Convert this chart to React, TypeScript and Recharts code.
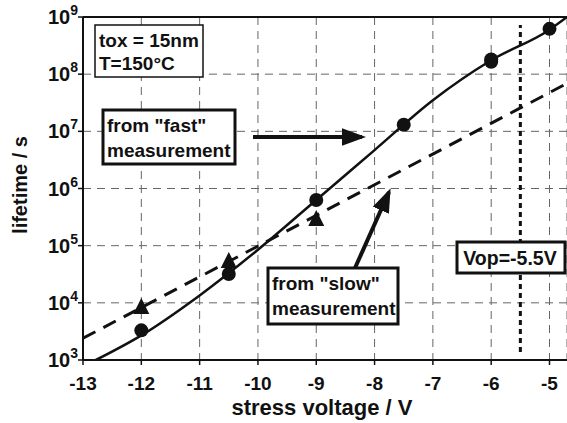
import { ComposedChart, Line, Scatter, XAxis, YAxis, CartesianGrid, ReferenceLine } from 'recharts';

// stress voltage (V) / lifetime (s)
const fastFitX = [-12.78, -12, -11, -10, -9, -8, -7, -6, -5, -4.7];
const fastFitY = [1e3, 2.7e3, 1.35e4, 8.5e4, 6.3e5, 4.7e6, 3.5e7, 1.75e8, 6.0e8, 1e9];
const slowFitX = [-13, -4.7];
const slowFitY = [2.4e3, 6.9e7];
const fastPointsX = [-12, -10.5, -9, -7.5, -6, -6, -5];
const fastPointsY = [3.3e3, 3.2e4, 6.3e5, 1.3e7, 1.65e8, 1.8e8, 6.2e8];
const slowPointsX = [-12, -10.5, -9];
const slowPointsY = [8.1e3, 5.2e4, 2.8e5];
const xTicks = [-13, -12, -11, -10, -9, -8, -7, -6, -5];
const yTicks = [1e3, 1e4, 1e5, 1e6, 1e7, 1e8, 1e9];
const vop = -5.5;

const zip = (xs: number[], ys: number[]) => xs.map((x, i) => ({ x, y: ys[i] }));

const FONT = '"Liberation Sans", Arial, sans-serif';

const XTick = ({ x, y, payload }: any) => (
  <text x={x} y={y + 23} textAnchor="middle" fontFamily={FONT} fontWeight="bold" fontSize={19} fill="#111">
    {payload.value}
  </text>
);

const YTick = ({ x, y, payload }: any) => {
  const exp = Math.round(Math.log10(payload.value));
  return (
    <text x={x} y={y + 7} textAnchor="end" fontFamily={FONT} fontWeight="bold" fontSize={20} fill="#111">
      <tspan>10</tspan>
      <tspan dy={-9} fontSize={14}>{exp}</tspan>
    </text>
  );
};

const Dot = ({ cx, cy }: any) => <circle cx={cx} cy={cy} r={7} fill="#111" />;

const Tri = ({ cx, cy }: any) => (
  <polygon points={`${cx},${cy - 10} ${cx - 8},${cy + 6} ${cx + 8},${cy + 6}`} fill="#111" />
);

const VopLine = (props: any) => {
  const { x1, y1, x2, y2 } = props;
  return <line x1={x1} y1={y1 - 8} x2={x2} y2={y2 + 8} stroke="#111" strokeWidth={3} strokeDasharray="5 4" />;
};

const Overlay = () => (
  <svg width={567} height={423} style={{ position: 'absolute', left: 0, top: 0, pointerEvents: 'none' }}>
    <defs>
      <marker id="head" markerWidth="6" markerHeight="6" refX="5" refY="3" orient="auto" markerUnits="strokeWidth">
        <path d="M0,0.8 L6,3 L0,5.2 z" fill="#111" />
      </marker>
    </defs>
    <g fontFamily={FONT} fontWeight="bold" fill="#111">
      <text x={322} y={415} fontSize={22} textAnchor="middle">stress voltage / V</text>
      <text x={0} y={0} fontSize={20} textAnchor="middle" transform="translate(27,185) rotate(-90)">lifetime / s</text>

      <rect x={95} y={25} width={108} height={52} fill="#fff" stroke="#111" strokeWidth={1.5} />
      <text x={99} y={47} fontSize={19}>tox = 15nm</text>
      <text x={99} y={70} fontSize={19}>T=150°C</text>

      <rect x={103} y={110} width={132} height={54} fill="#fff" stroke="#111" strokeWidth={3} />
      <text x={107} y={132} fontSize={19}>from "fast"</text>
      <text x={107} y={157} fontSize={19}>measurement</text>
      <line x1={253} y1={137} x2={362} y2={137} stroke="#111" strokeWidth={4} markerEnd="url(#head)" />

      <rect x={268} y={268} width={130} height={56} fill="#fff" stroke="#111" strokeWidth={3} />
      <text x={272} y={290} fontSize={19}>from "slow"</text>
      <text x={272} y={315} fontSize={19}>measurement</text>
      <line x1={355} y1={268} x2={389} y2={192} stroke="#111" strokeWidth={4} markerEnd="url(#head)" />

      <rect x={457} y={242} width={108} height={31} fill="#fff" stroke="#111" strokeWidth={3} />
      <text x={510} y={265} fontSize={19.5} textAnchor="middle">Vop=-5.5V</text>
    </g>
  </svg>
);

export default function App() {
  return (
    <div style={{ position: 'absolute', left: 0, top: 0, width: 567, height: 423, background: '#fff' }}>
      <ComposedChart width={567} height={423} margin={{ top: 17, right: 0, left: 0, bottom: 0 }}>
        <CartesianGrid stroke="#666" strokeDasharray="8 6" strokeWidth={1} />
        <XAxis
          type="number"
          dataKey="x"
          domain={[-13, -4.7]}
          ticks={xTicks}
          allowDataOverflow
          height={63}
          tick={<XTick />}
          tickSize={5}
          axisLine={{ stroke: '#111', strokeWidth: 2 }}
          tickLine={{ stroke: '#111', strokeWidth: 1.5 }}
        />
        <YAxis
          type="number"
          dataKey="y"
          scale="log"
          domain={[1e3, 1e9]}
          ticks={yTicks}
          allowDataOverflow
          width={83}
          tick={<YTick />}
          tickSize={5}
          tickMargin={0}
          axisLine={{ stroke: '#111', strokeWidth: 2 }}
          tickLine={{ stroke: '#111', strokeWidth: 1.5 }}
        />
        <ReferenceLine y={1e9} stroke="#111" strokeWidth={2} />
        <ReferenceLine x={vop} shape={<VopLine />} />
        <Line data={zip(slowFitX, slowFitY)} dataKey="y" type="linear" stroke="#111" strokeWidth={3} strokeDasharray="14 9" dot={false} isAnimationActive={false} />
        <Line data={zip(fastFitX, fastFitY)} dataKey="y" type="monotone" stroke="#111" strokeWidth={2.5} dot={false} isAnimationActive={false} />
        <Scatter data={zip(slowPointsX, slowPointsY)} shape={<Tri />} isAnimationActive={false} />
        <Scatter data={zip(fastPointsX, fastPointsY)} shape={<Dot />} isAnimationActive={false} />
      </ComposedChart>
      <Overlay />
    </div>
  );
}
